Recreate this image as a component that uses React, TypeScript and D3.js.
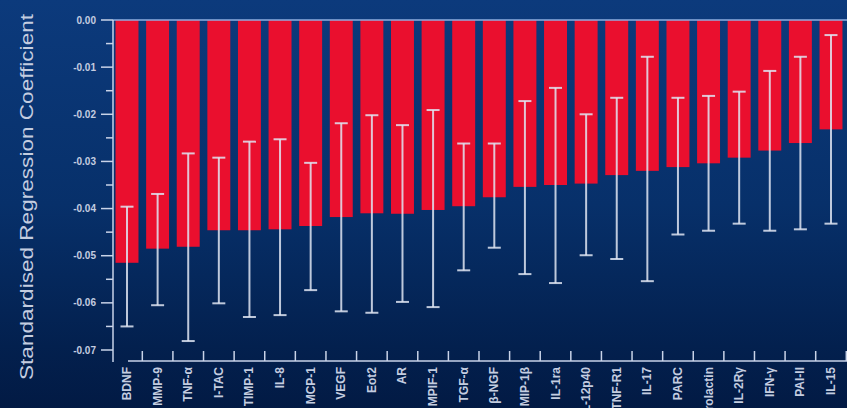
import React from "react";
import * as d3 from "d3";

const categories = ["BDNF","MMP-9","TNF-α","I-TAC","TIMP-1","IL-8","MCP-1","VEGF","Eot2","AR","MPIF-1","TGF-α","β-NGF","MIP-1β","IL-1ra","IL-12p40","TNF-R1","IL-17","PARC","Prolactin","IL-2Rγ","IFN-γ","PAI-II","IL-15"];
const coef = [-0.0515,-0.0485,-0.0481,-0.0446,-0.0446,-0.0444,-0.0437,-0.0418,-0.0410,-0.0411,-0.0403,-0.0395,-0.0376,-0.0354,-0.0350,-0.0347,-0.0329,-0.0320,-0.0312,-0.0304,-0.0292,-0.0277,-0.0261,-0.0232];
const lower = [-0.0650,-0.0605,-0.0681,-0.0601,-0.0630,-0.0626,-0.0573,-0.0618,-0.0621,-0.0598,-0.0609,-0.0531,-0.0483,-0.0539,-0.0558,-0.0499,-0.0507,-0.0554,-0.0455,-0.0447,-0.0432,-0.0447,-0.0444,-0.0432];
const upper = [-0.0396,-0.0369,-0.0283,-0.0292,-0.0258,-0.0253,-0.0303,-0.0219,-0.0202,-0.0223,-0.0191,-0.0262,-0.0262,-0.0172,-0.0144,-0.0200,-0.0165,-0.0078,-0.0165,-0.0161,-0.0152,-0.0108,-0.0078,-0.0032];
const yTicks = [0,-0.01,-0.02,-0.03,-0.04,-0.05,-0.06,-0.07];
const yMinorTicks = [-0.005,-0.015,-0.025,-0.035,-0.045,-0.055,-0.065];
const yTitle = "Standardised Regression Coefficient";

const W = 847, H = 408;

export default function App() {
  const x = d3.scaleBand<string>().domain(categories).range([111.7, 846.3]).paddingInner(0.25).paddingOuter(0.125);
  const y = d3.scaleLinear().domain([0, -0.07]).range([20, 350]);
  const axisX = 113;
  const axisColor = "#c9d3e8";
  const textColor = "#c4cde0";
  const step = x.step();
  const fmt = (v: number) => (v === 0 ? "0.00" : d3.format(".2f")(v).replace("−", "-"));
  return (
    <svg width={W} height={H} style={{ position: "absolute", left: 0, top: 0 }} fontFamily="Arial, 'Liberation Sans', sans-serif">
      <defs>
        <linearGradient id="bg" x1="0" y1="0" x2="0" y2="1">
          <stop offset="0" stopColor="#0c3a7c" />
          <stop offset="0.5" stopColor="#07306a" />
          <stop offset="0.85" stopColor="#03204e" />
          <stop offset="1" stopColor="#021a44" />
        </linearGradient>
      </defs>
      <rect x={0} y={0} width={W} height={H} fill="url(#bg)" />
      {/* bars */}
      {categories.map((c, i) => (
        <rect key={c} x={x(c)} y={y(0)} width={x.bandwidth()} height={y(coef[i]) - y(0)} fill="#ea0f2e" />
      ))}
      {/* zero line */}
      <line x1={axisX} x2={W} y1={y(0)} y2={y(0)} stroke="#8eaee0" strokeWidth={1.5} />
      {/* error bars */}
      {categories.map((c, i) => {
        const cx = (x(c) as number) + x.bandwidth() / 2;
        return (
          <g key={"e" + c} stroke="#dfe5f2" strokeOpacity={0.85} strokeWidth={2}>
            <line x1={cx} x2={cx} y1={y(upper[i])} y2={y(lower[i])} />
            <line x1={cx - 6.5} x2={cx + 6.5} y1={y(upper[i])} y2={y(upper[i])} />
            <line x1={cx - 6.5} x2={cx + 6.5} y1={y(lower[i])} y2={y(lower[i])} />
          </g>
        );
      })}
      {/* y axis */}
      <line x1={axisX} x2={axisX} y1={y(0)} y2={362} stroke={axisColor} strokeWidth={1.5} />
      {yTicks.map((t) => (
        <g key={"t" + t}>
          <line x1={axisX - 12} x2={axisX} y1={y(t)} y2={y(t)} stroke={axisColor} strokeWidth={1.5} />
          <text x={96} y={y(t)} dy="0.35em" textAnchor="end" fontSize={10} fontWeight="bold" fill={textColor}>{fmt(t)}</text>
        </g>
      ))}
      {yMinorTicks.map((t) => (
        <line key={"m" + t} x1={axisX - 7} x2={axisX} y1={y(t)} y2={y(t)} stroke={axisColor} strokeWidth={1.5} />
      ))}
      {/* x axis */}
      <line x1={128} x2={W} y1={361} y2={361} stroke={axisColor} strokeWidth={1.5} />
      {categories.map((c) => {
        const tx = (x(c) as number) + x.bandwidth() / 2 + step / 2;
        return <line key={"xt" + c} x1={tx} x2={tx} y1={351} y2={361} stroke={axisColor} strokeWidth={1.5} />;
      })}
      {categories.map((c) => {
        const cx = (x(c) as number) + x.bandwidth() / 2;
        return (
          <text key={"xl" + c} transform={`translate(${cx + 4},367) rotate(-90)`} textAnchor="end" fontSize={12} fontWeight="bold" fill={textColor}>{c}</text>
        );
      })}
      {/* y title */}
      <text transform={`translate(33,197) rotate(-90)`} textAnchor="middle" fontSize={18} fill={textColor} textLength={366} lengthAdjust="spacingAndGlyphs">{yTitle}</text>
    </svg>
  );
}
